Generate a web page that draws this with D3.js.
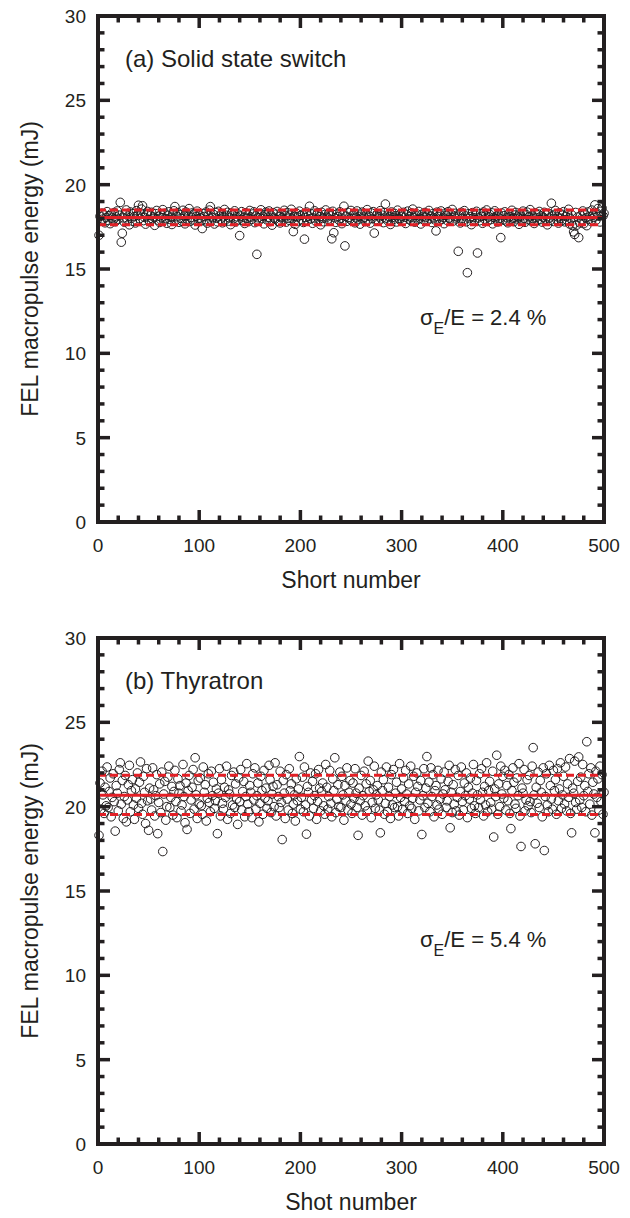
<!DOCTYPE html>
<html>
<head>
<meta charset="utf-8">
<script src="https://cdn.jsdelivr.net/npm/d3@7"></script>
<style>
  body { margin: 0; background: #fff; }
  svg { display: block; }
</style>
</head>
<body>
<script>
// Energies, one per shot (shot = index + 1)
const energySolid = [
  17.00, 18.12, 17.85, 18.31, 17.96, 18.22, 17.74, 18.05, 18.40, 17.88, 18.16, 17.69, 18.27, 18.02, 17.91, 18.35, 17.80, 18.09, 18.44, 17.95, 18.19, 18.95, 16.59, 17.12, 18.03,
  17.78, 18.25, 18.50, 17.93, 18.14, 17.62, 18.38, 18.01, 17.84, 18.29, 18.11, 17.73, 18.46, 18.20, 18.78, 17.98, 18.33, 18.55, 18.75, 17.87, 18.06, 17.66, 18.24, 18.41, 17.92,
  17.81, 18.17, 18.36, 17.97, 18.08, 17.59, 18.28, 18.47, 17.90, 18.13, 17.76, 18.21, 18.04, 18.52, 17.86, 18.30, 17.99, 17.71, 18.18, 18.39, 17.94, 18.07, 17.64, 18.26, 18.45,
  18.70, 17.89, 18.10, 18.34, 17.77, 18.23, 18.00, 17.83, 18.48, 18.15, 17.68, 18.37, 17.96, 18.19, 18.58, 17.82, 18.06, 18.32, 17.91, 18.27, 17.61, 18.12, 18.43, 17.98, 18.20,
  18.02, 17.85, 17.40, 18.29, 18.11, 17.93, 18.38, 17.72, 18.16, 18.49, 18.70, 17.88, 18.05, 18.24, 17.67, 18.35, 18.01, 17.80, 18.42, 18.13, 17.95, 18.28, 17.74, 18.09, 18.53,
  17.90, 18.18, 18.36, 17.84, 18.03, 17.63, 18.31, 18.22, 17.97, 18.45, 17.79, 18.10, 18.27, 17.92, 16.98, 18.14, 18.40, 17.87, 18.06, 17.70, 18.33, 18.00, 18.21, 17.82, 18.47,
  18.08, 17.94, 18.26, 18.39, 17.75, 18.15, 15.87, 18.04, 17.86, 18.30, 18.51, 17.99, 18.12, 17.68, 18.23, 18.37, 17.91, 18.07, 18.44, 17.81, 18.19, 17.60, 18.34, 18.02, 17.96,
  18.25, 18.41, 17.83, 18.11, 17.73, 18.29, 18.05, 17.93, 18.48, 18.16, 17.78, 18.35, 18.01, 17.89, 18.20, 18.54, 17.97, 17.22, 18.13, 17.65, 18.32, 18.09, 17.85, 18.43, 18.17,
  17.92, 18.24, 17.76, 16.77, 18.06, 18.38, 17.88, 18.14, 18.72, 17.98, 18.27, 17.71, 18.02, 18.45, 17.84, 18.19, 18.33, 17.94, 18.10, 17.62, 18.36, 18.00, 17.80, 18.23, 18.50,
  18.08, 17.95, 18.31, 17.87, 18.15, 16.79, 18.42, 17.15, 18.04, 17.77, 18.26, 18.11, 17.90, 18.39, 18.01, 17.69, 18.22, 18.72, 16.37, 18.13, 17.83, 18.35, 18.06, 17.96, 18.47,
  17.86, 18.18, 18.29, 17.74, 18.03, 18.44, 17.93, 18.12, 17.66, 18.25, 18.37, 17.99, 18.07, 17.81, 18.21, 18.52, 17.89, 18.14, 17.72, 18.32, 18.00, 18.40, 17.13, 17.91, 18.17,
  18.28, 17.84, 18.09, 18.46, 17.97, 18.19, 17.75, 18.34, 18.85, 18.02, 17.88, 18.23, 18.11, 17.64, 18.38, 18.05, 17.94, 18.30, 18.16, 17.79, 18.49, 18.01, 17.92, 18.26, 18.13,
  17.83, 18.36, 18.07, 17.70, 18.21, 18.43, 17.96, 18.10, 17.87, 18.32, 18.55, 18.04, 17.78, 18.18, 18.27, 17.93, 18.41, 18.00, 17.67, 18.24, 18.12, 17.90, 18.35, 18.08, 17.85,
  18.20, 18.47, 17.98, 18.14, 17.76, 18.29, 18.03, 17.91, 17.26, 18.37, 18.11, 17.82, 18.22, 18.44, 17.95, 18.06, 17.69, 18.31, 18.17, 17.88, 18.40, 18.02, 17.94, 18.25, 18.53,
  17.84, 18.13, 18.30, 17.97, 18.08, 16.05, 18.21, 17.73, 18.36, 18.01, 17.89, 18.46, 18.15, 17.80, 14.78, 18.27, 17.99, 18.10, 17.63, 18.34, 18.05, 17.92, 18.19, 18.42, 15.95,
  18.03, 17.86, 18.28, 18.12, 17.71, 18.38, 17.96, 18.17, 18.50, 17.83, 18.09, 18.24, 17.93, 18.33, 17.68, 18.06, 18.45, 17.98, 18.14, 17.79, 18.22, 18.01, 16.86, 18.31, 17.90,
  18.16, 18.39, 17.85, 18.04, 17.74, 18.27, 18.11, 17.94, 18.48, 18.02, 17.81, 18.20, 18.35, 17.97, 18.08, 17.65, 18.29, 18.13, 17.89, 18.43, 18.00, 17.77, 18.23, 18.37, 17.92,
  18.10, 18.52, 17.84, 18.18, 17.99, 17.70, 18.32, 18.05, 17.87, 18.26, 18.41, 17.93, 18.14, 17.78, 18.07, 18.36, 17.96, 18.21, 17.62, 18.30, 18.02, 17.88, 18.90, 18.15, 17.82,
  18.24, 18.47, 17.95, 18.09, 17.72, 18.33, 18.01, 17.86, 18.19, 18.40, 17.80, 18.12, 17.91, 18.28, 18.54, 17.67, 17.98, 18.22, 17.58, 17.20, 17.05, 18.35, 17.60, 18.08, 16.86,
  17.74, 18.17, 17.90, 18.44, 17.69, 18.26, 18.03, 17.57, 18.38, 17.94, 18.11, 17.83, 18.49, 18.20, 18.06, 18.80, 17.88, 18.31, 18.58, 18.13, 17.79, 18.42, 18.62, 18.15, 18.30
];

const energyThyratron = [
  18.30, 21.40, 19.85, 22.10, 20.70, 19.60, 21.15, 20.05, 22.35, 19.95, 20.90, 21.70, 19.40, 20.55, 21.95, 20.30, 18.55, 21.25, 20.80, 19.75, 22.20, 22.60, 20.15, 21.55, 19.30,
  20.60, 21.85, 19.10, 20.40, 21.30, 22.45, 19.70, 20.95, 21.60, 20.10, 19.25, 21.05, 20.50, 22.00, 19.90, 21.45, 22.65, 20.20, 19.55, 21.80, 20.85, 19.00, 22.25, 20.35, 18.60,
  21.10, 20.45, 19.80, 22.30, 21.00, 19.45, 20.65, 21.90, 18.40, 20.25, 21.35, 19.65, 22.05, 17.34, 20.75, 21.50, 19.20, 20.00, 21.75, 22.40, 19.95, 20.55, 21.20, 19.50, 20.90,
  22.15, 20.30, 19.35, 21.65, 20.80, 21.25, 19.75, 20.10, 22.50, 20.60, 19.05, 21.40, 18.65, 20.95, 21.85, 19.60, 20.40, 21.15, 22.20, 19.85, 22.90, 20.70, 19.30, 21.55, 20.15,
  21.70, 20.05, 19.55, 22.35, 20.85, 21.30, 19.15, 20.50, 21.95, 20.25, 19.70, 22.10, 20.65, 21.45, 19.90, 20.35, 21.05, 18.40, 20.80, 22.25, 19.45, 21.60, 20.20, 19.85, 21.15,
  20.55, 22.40, 19.25, 21.00, 20.75, 19.60, 21.85, 20.10, 22.05, 19.95, 21.35, 20.45, 18.95, 21.70, 20.30, 22.20, 19.80, 20.90, 21.50, 19.40, 20.60, 22.55, 20.15, 19.70, 21.25,
  20.85, 19.35, 21.95, 20.40, 22.30, 19.85, 20.65, 21.40, 19.10, 20.20, 21.80, 20.95, 19.55, 22.15, 20.50, 21.10, 19.90, 20.35, 22.45, 21.60, 19.65, 20.75, 21.20, 20.00, 22.60,
  19.45, 21.30, 20.60, 19.95, 22.10, 20.25, 18.05, 21.55, 20.80, 19.30, 21.90, 20.45, 19.80, 22.25, 20.95, 21.35, 19.60, 20.15, 20.70, 19.15, 21.65, 20.35, 21.05, 22.97, 19.85,
  20.55, 21.75, 19.70, 22.35, 20.10, 18.37, 21.20, 20.85, 19.45, 22.00, 20.40, 21.50, 19.90, 20.65, 21.95, 19.25, 20.30, 22.20, 21.10, 19.75, 20.90, 21.40, 20.05, 19.55, 22.50,
  21.15, 19.85, 20.60, 22.15, 20.20, 19.40, 21.65, 20.95, 22.90, 19.65, 20.45, 21.30, 20.00, 22.05, 19.95, 21.80, 20.70, 19.20, 21.25, 20.35, 22.30, 19.80, 20.85, 21.55, 20.15,
  19.60, 21.40, 20.50, 22.25, 20.80, 19.95, 18.30, 21.10, 20.35, 21.85, 19.50, 20.65, 22.10, 20.05, 21.35, 19.75, 22.70, 20.90, 21.55, 19.35, 20.25, 21.00, 22.40, 19.90, 20.70,
  21.25, 20.40, 19.80, 18.45, 22.05, 20.95, 21.60, 19.55, 20.20, 22.35, 19.70, 21.15, 20.60, 19.30, 21.90, 20.10, 22.20, 19.95, 20.80, 21.45, 20.00, 19.45, 22.55, 20.55, 21.05,
  19.85, 21.70, 20.30, 22.15, 20.75, 19.60, 21.35, 20.05, 22.40, 19.90, 20.50, 21.80, 19.25, 20.85, 22.00, 21.20, 19.75, 20.40, 21.55, 18.35, 20.65, 22.25, 19.95, 21.10, 22.97,
  20.20, 21.45, 19.70, 22.30, 20.60, 21.90, 19.40, 20.95, 21.25, 20.10, 22.15, 19.85, 20.45, 21.65, 19.55, 20.75, 22.05, 21.00, 19.95, 20.35, 21.50, 22.45, 18.75, 20.85, 19.65,
  21.30, 20.15, 22.20, 19.75, 20.55, 21.85, 19.50, 20.90, 22.35, 20.30, 19.80, 21.40, 20.65, 22.00, 19.35, 21.15, 20.45, 21.70, 19.90, 20.80, 22.50, 20.05, 19.60, 21.55, 20.70,
  19.95, 21.95, 20.40, 22.25, 20.85, 19.45, 21.20, 20.10, 22.60, 19.70, 20.95, 21.50, 20.25, 19.85, 22.10, 18.20, 21.05, 20.60, 23.05, 19.55, 21.35, 20.00, 22.40, 20.75, 21.80,
  20.50, 22.15, 19.80, 21.25, 20.35, 21.90, 19.60, 18.70, 20.95, 22.30, 21.45, 20.15, 19.90, 21.70, 20.65, 22.55, 19.45, 17.64, 21.10, 20.80, 22.20, 19.75, 20.40, 21.60, 20.05,
  21.85, 20.30, 19.65, 22.40, 23.50, 20.70, 17.80, 21.15, 20.20, 22.05, 19.95, 21.55, 20.85, 19.40, 22.30, 17.40, 20.60, 21.95, 20.10, 19.70, 22.45, 21.25, 20.45, 19.85, 22.15,
  20.95, 21.60, 19.55, 22.25, 20.35, 21.05, 22.60, 19.90, 20.70, 21.80, 20.15, 22.35, 19.75, 21.35, 20.55, 22.85, 19.60, 18.45, 21.10, 20.80, 22.70, 20.25, 19.85, 21.50, 22.95,
  20.40, 21.75, 19.95, 22.50, 20.65, 21.25, 19.70, 23.85, 20.90, 21.95, 20.15, 22.30, 19.50, 21.45, 20.75, 18.45, 22.10, 20.55, 21.65, 19.80, 22.40, 20.30, 21.90, 19.55, 20.85
];

// mean - sigma, mean, mean + sigma
const levelsSolid = [17.62, 18.06, 18.50];
const levelsThyratron = [19.54, 20.68, 21.86];

const panelTitles = ["(a) Solid state switch", "(b) Thyratron"];
const xTitles = ["Short number", "Shot number"];
const sigmaValues = ["2.4 %", "5.4 %"];
const yTitle = "FEL macropulse energy (mJ)";

const xMajorTicks = [0, 100, 200, 300, 400, 500];
const xMinorTicks = d3.range(20, 500, 20).filter(v => v % 100 !== 0);
const yMajorTicks = [0, 5, 10, 15, 20, 25, 30];
const yMinorTicks = d3.range(1, 30, 1).filter(v => v % 5 !== 0);

const W = 630, H = 1218;
const font = "Liberation Sans, Arial, sans-serif";
const ink = "#231f20";
const red = "#e31f26";

const svg = d3.select("body").append("svg")
    .attr("width", W)
    .attr("height", H);

function addTicks(g, x, y, width, height) {
    // Inward ticks on all four sides: [value, length] pairs
    const xt = xMajorTicks.map(v => [v, 12]).concat(xMinorTicks.map(v => [v, 6.5]));
    const yt = yMajorTicks.map(v => [v, 12]).concat(yMinorTicks.map(v => [v, 6.5]));
    const tg = g.append("g")
        .attr("stroke", ink)
        .attr("stroke-width", 3.5);

    [0, height].forEach(edge => {
        const dir = edge === 0 ? 1 : -1;
        tg.selectAll(null)
            .data(xt)
            .enter()
            .append("line")
            .attr("x1", d => x(d[0]))
            .attr("x2", d => x(d[0]))
            .attr("y1", edge)
            .attr("y2", d => edge + dir * d[1]);
    });

    [0, width].forEach(edge => {
        const dir = edge === 0 ? 1 : -1;
        tg.selectAll(null)
            .data(yt)
            .enter()
            .append("line")
            .attr("y1", d => y(d[0]))
            .attr("y2", d => y(d[0]))
            .attr("x1", edge)
            .attr("x2", d => edge + dir * d[1]);
    });
}

function drawPanel(top, energy, levels, idx) {
    const left = 98, width = 506, height = 506;
    const g = svg.append("g").attr("transform", `translate(${left},${top})`);

    const x = d3.scaleLinear().domain([0, 500]).range([0, width]);
    const y = d3.scaleLinear().domain([0, 30]).range([height, 0]);

    // Data points (open circles)
    g.append("g")
        .selectAll("circle")
        .data(energy)
        .enter()
        .append("circle")
        .attr("cx", (d, i) => x(i + 1))
        .attr("cy", d => y(d))
        .attr("r", 4.3)
        .attr("fill", "none")
        .attr("stroke", ink)
        .attr("stroke-width", 1);

    // Mean and +/- sigma lines
    g.append("g")
        .selectAll("line")
        .data(levels)
        .enter()
        .append("line")
        .attr("x1", 0)
        .attr("x2", width)
        .attr("y1", d => y(d))
        .attr("y2", d => y(d))
        .attr("stroke", red)
        .attr("stroke-width", 3)
        .attr("stroke-dasharray", (d, i) => i === 1 ? null : "8,4");

    addTicks(g, x, y, width, height);

    // Frame
    g.append("rect")
        .attr("width", width)
        .attr("height", height)
        .attr("fill", "none")
        .attr("stroke", ink)
        .attr("stroke-width", 4);

    // Tick labels
    g.append("g").selectAll("text")
        .data(yMajorTicks)
        .enter()
        .append("text")
        .attr("x", -12)
        .attr("y", d => y(d))
        .attr("dy", "0.36em")
        .attr("text-anchor", "end")
        .attr("font-family", font)
        .attr("font-size", 19)
        .attr("fill", ink)
        .text(d => d);

    g.append("g").selectAll("text")
        .data(xMajorTicks)
        .enter()
        .append("text")
        .attr("x", d => x(d))
        .attr("y", height + 30)
        .attr("text-anchor", "middle")
        .attr("font-family", font)
        .attr("font-size", 19)
        .attr("fill", ink)
        .text(d => d);

    // Axis titles
    g.append("text")
        .attr("x", width / 2)
        .attr("y", height + 66)
        .attr("text-anchor", "middle")
        .attr("font-family", font)
        .attr("font-size", 23)
        .attr("fill", ink)
        .text(xTitles[idx]);

    g.append("text")
        .attr("transform", "rotate(-90)")
        .attr("x", -height / 2)
        .attr("y", -60)
        .attr("text-anchor", "middle")
        .attr("font-family", font)
        .attr("font-size", 23)
        .attr("fill", ink)
        .text(yTitle);

    // Panel title
    g.append("text")
        .attr("x", 27)
        .attr("y", 51)
        .attr("font-family", font)
        .attr("font-size", 24)
        .attr("fill", ink)
        .text(panelTitles[idx]);

    // sigma_E/E annotation
    const t = g.append("text")
        .attr("x", 322)
        .attr("y", 309)
        .attr("font-family", font)
        .attr("font-size", 22)
        .attr("fill", ink);
    t.append("tspan").text("\u03c3");
    t.append("tspan").attr("dy", 9).attr("font-size", 16).text("E");
    t.append("tspan").attr("dy", -9).text("/E = " + sigmaValues[idx]);
}

drawPanel(16, energySolid, levelsSolid, 0);
drawPanel(638, energyThyratron, levelsThyratron, 1);
</script>
</body>
</html>
